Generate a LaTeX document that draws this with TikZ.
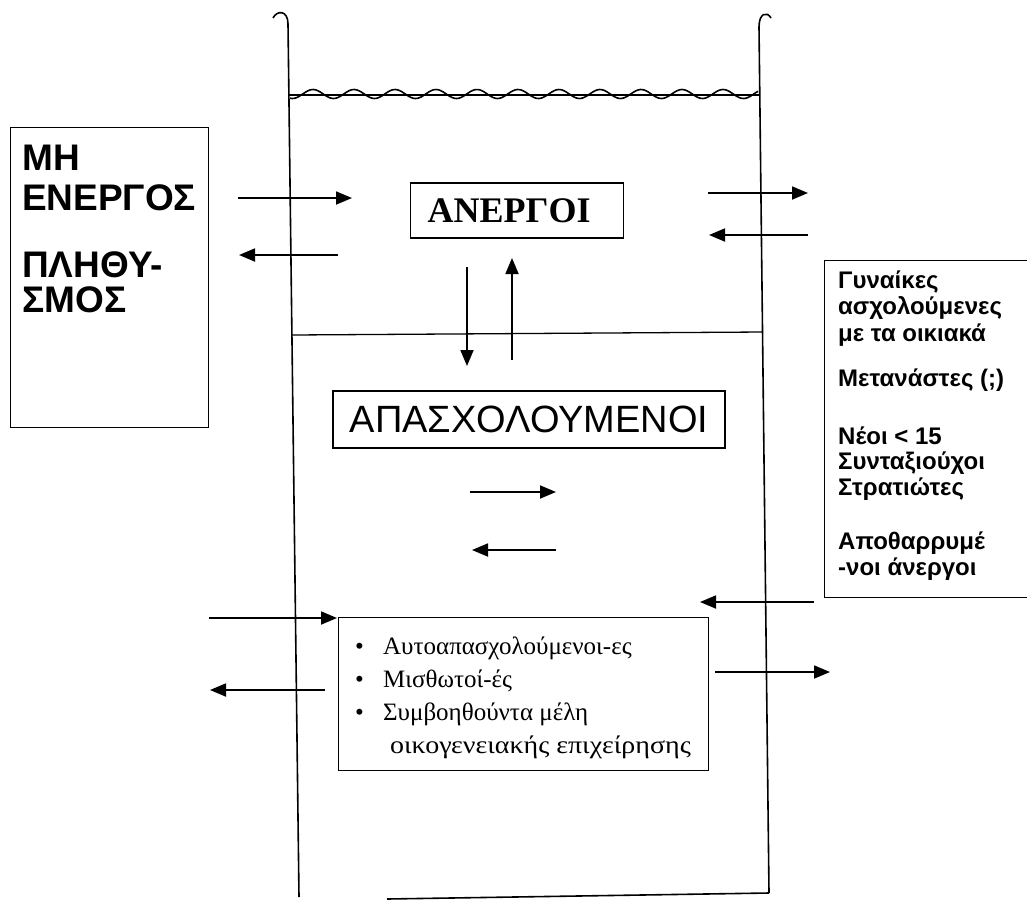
\documentclass[tikz,border=0pt]{standalone}
\usepackage{fontspec}
\setmainfont{Liberation Serif}
\setsansfont{Liberation Sans}
\usetikzlibrary{arrows.meta}

\begin{document}
\begin{tikzpicture}[
    x=1pt, y=-1pt,
    flow/.style={line width=1.8pt, -{Triangle[length=16pt, width=13pt]}},
    wall/.style={line width=1.6pt},
    box/.style={draw, line width=1.3pt, inner sep=0pt},
    bigsans/.style={anchor=base west, inner sep=0pt, font=\sffamily\bfseries\fontsize{37}{38}\selectfont},
    smallsans/.style={anchor=base west, inner sep=0pt, font=\sffamily\bfseries\fontsize{24}{26}\selectfont},
    serifitem/.style={anchor=base west, inner sep=0pt, font=\fontsize{25}{27}\selectfont},
]
\useasboundingbox (0,0) rectangle (1027,900);

% Tank: walls with hooks, water surface, dividing line, bottom
\draw[wall] (273,18) .. controls (277,10) and (288,10) .. (288,24) -- (299,897);
\draw[wall] (771,18) .. controls (767,11) and (759,13) .. (759,27) -- (769,893);
\draw[line width=1.3pt] (289,95) -- (759,95);
\draw[line width=1.6pt] plot[domain=290:758, samples=240] (\x, {94-4.5*cos((\x-313)/41*360)});
\draw[line width=1.3pt] (292,335) -- (763,332);
\draw[line width=1.6pt] (387,899) -- (769,893);

% Left box: inactive population
\node[box, anchor=north west, minimum width=198, minimum height=300] (inactive) at (10,127) {};
\foreach \y/\t in {170/ΜΗ, 210/ΕΝΕΡΓΟΣ, 277/ΠΛΗΘΥ-, 312/ΣΜΟΣ} {
    \node[bigsans] (inactive-\y) at (22,\y) {\t};
}

% Right box: groups outside the labour force
\node[box, anchor=north west, minimum width=204, minimum height=337] (outside) at (824,260) {};
\foreach \y/\t in {288/Γυναίκες, 314/ασχολούμενες, 341/με τα οικιακά, 386/Μετανάστες (;),
                   444/Νέοι < 15, 469/Συνταξιούχοι, 495/Στρατιώτες, 549/Αποθαρρυμέ, 575/-νοι άνεργοι} {
    \node[smallsans] (outside-\y) at (838,\y) {\t};
}

% Unemployed
\node[box, anchor=west, minimum height=55, text width=179, inner xsep=17, align=left,
      font=\bfseries\fontsize{36}{38}\selectfont] (unempl) at (410,210.5) {ΑΝΕΡΓΟΙ};

% Employed
\node[box, minimum width=392, minimum height=57,
      font=\sffamily\fontsize{38}{40}\selectfont] (empl) at (529,419.5) {ΑΠΑΣΧΟΛΟΥΜΕΝΟΙ};

% Kinds of employed
\node[box, anchor=north west, minimum width=370, minimum height=153] (kinds) at (338,617) {};
\foreach \y/\t in {654/Αυτοαπασχολούμενοι-ες, 687/Μισθωτοί-ές, 720/Συμβοηθούντα μέλη} {
    \node[serifitem] (kinds-\y) at (355,\y) {\makebox[28pt][l]{\textbullet}\t};
}
\node[serifitem] (kinds-753) at (390,753) {\scalebox{1.12}[1]{οικογενειακής επιχείρησης}};

% Flows
\foreach \n/\xa/\ya/\xb/\yb in {
    inA/238/198/352/198, outA/338/255/239/255,
    inB/708/193/808/193, outB/808/235/709/235,
    down/467/267/467/366, up/512/360/512/258,
    midR/470/492/556/492, midL/556/550/472/550,
    inC/209/618/337/618, outC/325/690/210/690,
    inD/814/602/700/602, outD/715/672/830/672} {
    \coordinate (\n-s) at (\xa,\ya);
    \coordinate (\n-e) at (\xb,\yb);
    \draw[flow] (\n-s) -- (\n-e);
}

\end{tikzpicture}
\end{document}
